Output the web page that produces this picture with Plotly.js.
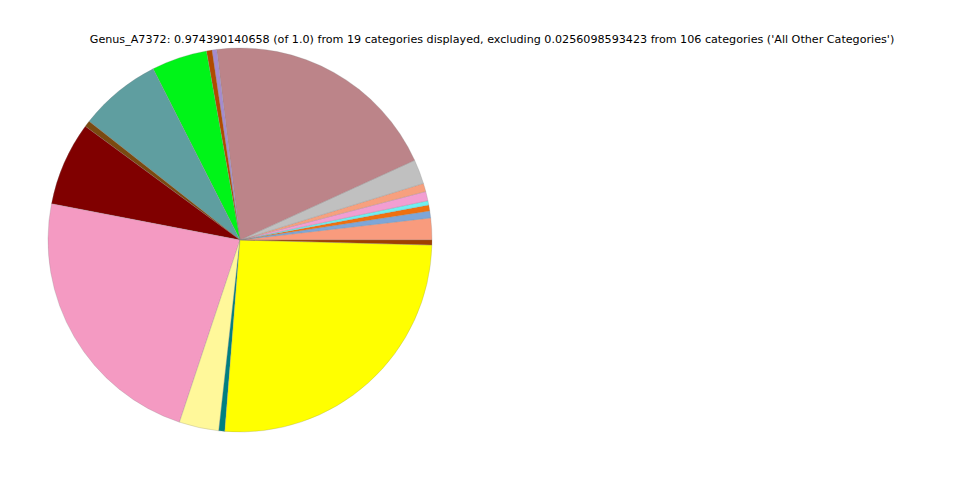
<!DOCTYPE html>
<html>
<head>
<meta charset="utf-8">
<script src="https://cdn.plot.ly/plotly-3.0.1.min.js"></script>
<style>html,body{margin:0;padding:0;background:#fff}#chart{width:960px;height:480px}</style>
</head>
<body>
<div id="chart"></div>
<script>
const categories = ["Category 1","Category 2","Category 3","Category 4","Category 5","Category 6","Category 7","Category 8","Category 9","Category 10","Category 11","Category 12","Category 13","Category 14","Category 15","Category 16","Category 17","Category 18","Category 19"];
const values = [0.0179,0.0057,0.0049,0.0035,0.0076,0.0068,0.0200,0.1960,0.0038,0.0046,0.0455,0.0674,0.0051,0.0687,0.2233,0.0325,0.0049,0.2517,0.0041];
const colors = ["#f99b7d","#7ea6d8","#f07010","#70f0f0","#f29ed2","#f7a07e","#c0c0c0","#bc8489","#a58bcf","#b04a00","#00f418","#5f9ea0","#7a4a10","#800000","#f49ac2","#fff89a","#008080","#ffff00","#a04000"];
const titleText = "Genus_A7372: 0.974390140658 (of 1.0) from 19 categories displayed, excluding 0.0256098593423 from 106 categories ('All Other Categories')";

const total = values.reduce((a, b) => a + b, 0);
// first wedge starts at 3 o'clock and runs counterclockwise
const rot = 90 - values[0] / total * 360;

Plotly.newPlot('chart', [{
  type: 'pie',
  labels: categories,
  values: values,
  sort: false,
  direction: 'counterclockwise',
  rotation: rot,
  textinfo: 'none',
  marker: {colors: colors, line: {color: 'rgba(130,130,130,0.5)', width: 0.5}},
  domain: {x: [0.05, 0.45], y: [0.1, 0.9]},
  showlegend: false
}], {
  width: 960, height: 480,
  margin: {l: 0, r: 0, t: 0, b: 0},
  paper_bgcolor: '#fff',
  title: {text: titleText, x: 0.5125, xanchor: 'center', y: 0.919, yanchor: 'middle', yref: 'container',
          font: {family: 'DejaVu Sans', size: 11.15, color: '#000'}},
  showlegend: false
}, {displayModeBar: false, staticPlot: true});
</script>
</body>
</html>
